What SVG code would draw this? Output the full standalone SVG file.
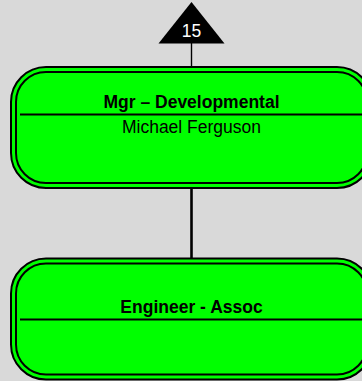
<svg xmlns="http://www.w3.org/2000/svg" width="362" height="381" viewBox="0 0 362 381">
<style>
.bg{fill:#d9d9d9}
.outer{fill:#00ff00;stroke:#000;stroke-width:2}
.inner{fill:#00ff00;stroke:#000;stroke-width:2}
.div{stroke:#000;stroke-width:1.8}
.t{font-family:"Liberation Sans",Arial,sans-serif;font-size:17.5px;fill:#000;text-anchor:middle}
.b{font-weight:bold}
.c{stroke:#000;fill:none}
</style>
<rect class="bg" x="0" y="0" width="362" height="381"/>
<g id="connectors">
<line class="c" x1="191.5" y1="43" x2="191.5" y2="67" stroke-width="1.4"/>
<line class="c" x1="191.5" y1="188" x2="191.5" y2="258.5" stroke-width="2.6"/>
</g>
<g id="badge">
<polygon points="191.5,2 158.5,43.5 224.5,43.5" fill="#000"/>
<text x="191.5" y="36.5" font-family="Liberation Sans,Arial,sans-serif" font-size="17.5" fill="#fff" text-anchor="middle">15</text>
</g>
<g id="node-mgr">
<rect class="outer" x="11" y="67" width="361" height="121" rx="35" ry="35"/>
<rect class="inner" x="16" y="72" width="351" height="111" rx="30" ry="30"/>
<line class="div" x1="20" y1="114.5" x2="362" y2="114.5"/>
<text class="t b" x="191.5" y="107.7">Mgr – Developmental</text>
<text class="t" x="191.5" y="133.3">Michael Ferguson</text>
</g>
<g id="node-engineer">
<rect class="outer" x="11" y="258.5" width="361" height="121" rx="35" ry="35"/>
<rect class="inner" x="16" y="263.5" width="351" height="111" rx="30" ry="30"/>
<line class="div" x1="20" y1="319.5" x2="362" y2="319.5"/>
<text class="t b" x="191.5" y="313.3">Engineer - Assoc</text>
</g>
</svg>
